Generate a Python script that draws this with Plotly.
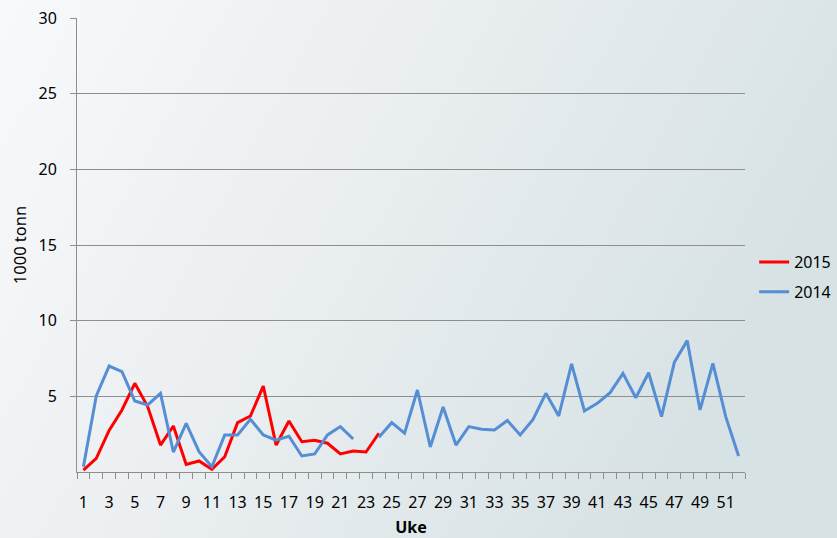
import plotly.graph_objects as go
import base64

weeks = list(range(1, 53))

y2015 = [0.13, 0.9, 2.75, 4.1, 5.86, 4.32, 1.78, 3.04, 0.5, 0.73, 0.18, 1.01, 3.26, 3.7, 5.68,
         1.78, 3.37, 2.0, 2.1, 1.9, 1.19, 1.39, 1.32, 2.56]

y2014 = [0.35, 5.02, 7.0, 6.63, 4.69, 4.43, 5.2, 1.32, 3.22, 1.34, 0.35, 2.45, 2.45, 3.48, 2.45,
         2.1, 2.36, 1.06, 1.19, 2.45, 3.0, 2.18, None, 2.3, 3.26, 2.57, 5.42, 1.65, 4.3, 1.78,
         3.0, 2.83, 2.78, 3.4, 2.45, 3.48, 5.2, 3.7, 7.14, 4.03, 4.54, 5.24, 6.52, 4.91, 6.56,
         3.66, 7.25, 8.68, 4.1, 7.18, 3.66, 1.06]

x_ticks = list(range(1, 52, 2))
y_ticks = [5, 10, 15, 20, 25, 30]

FONT = "Noto Sans"
GRID = "#8E8E8E"

svg = """<svg xmlns='http://www.w3.org/2000/svg' width='837' height='538'>
<defs><linearGradient id='g' x1='0' y1='0' x2='1' y2='0.35'>
<stop offset='0' stop-color='#F8F9FA'/><stop offset='0.45' stop-color='#EBEFF1'/>
<stop offset='1' stop-color='#D7E2E5'/></linearGradient></defs>
<rect width='837' height='538' fill='url(#g)'/></svg>"""
bg = "data:image/svg+xml;base64," + base64.b64encode(svg.encode()).decode()

fig = go.Figure()
fig.add_trace(go.Scatter(x=weeks[:len(y2015)], y=y2015, name="2015", mode="lines",
                         legendgroup="a", line=dict(color="#FF0000", width=3)))
fig.add_trace(go.Scatter(x=weeks, y=y2014, name="2014", mode="lines",
                         legendgroup="b", line=dict(color="#558ED5", width=3), connectgaps=False))

fig.update_layout(
    width=837, height=538,
    margin=dict(l=77, r=92, t=18, b=66),
    paper_bgcolor="rgba(0,0,0,0)",
    plot_bgcolor="rgba(0,0,0,0)",
    font=dict(family=FONT, size=16, color="#000000"),
    images=[dict(source=bg, xref="paper", yref="paper", x=-77/668, y=1+18/454,
                 sizex=837/668, sizey=538/454, xanchor="left", yanchor="top",
                 sizing="stretch", layer="below")],
    legend=dict(xref="container", yref="container", x=0.999, y=0.485,
                xanchor="right", yanchor="middle", traceorder="grouped",
                bgcolor="rgba(0,0,0,0)", font=dict(size=16, family=FONT),
                tracegroupgap=6, itemwidth=30, borderwidth=0),
    showlegend=True,
)

fig.update_xaxes(
    range=[0.5, 52.5], tickmode="array", tickvals=x_ticks,
    ticktext=[str(v) for v in x_ticks],
    ticks="outside", ticklen=0, tickcolor=GRID,
    minor=dict(ticks="outside", tick0=0.5, dtick=1, ticklen=6, tickcolor=GRID, showgrid=False),
    showline=True, linecolor=GRID, linewidth=1, showgrid=False, zeroline=False,
    ticklabelstandoff=16, automargin=False,
    title=dict(text="<b>Uke</b>", font=dict(size=16, family=FONT), standoff=12),
)
fig.update_yaxes(
    range=[0, 30], tickmode="array", tickvals=y_ticks,
    ticks="outside", ticklen=6, tickcolor=GRID,
    showline=True, linecolor=GRID, linewidth=1,
    showgrid=True, gridcolor=GRID, gridwidth=1, zeroline=False,
    ticklabelstandoff=10, automargin=False,
    title=dict(text="1000 tonn", font=dict(size=16.5, family=FONT), standoff=7),
)

fig.write_html("out.html", config={"displayModeBar": False},
               post_script="document.body.style.margin='0';document.body.style.overflow='hidden';")
